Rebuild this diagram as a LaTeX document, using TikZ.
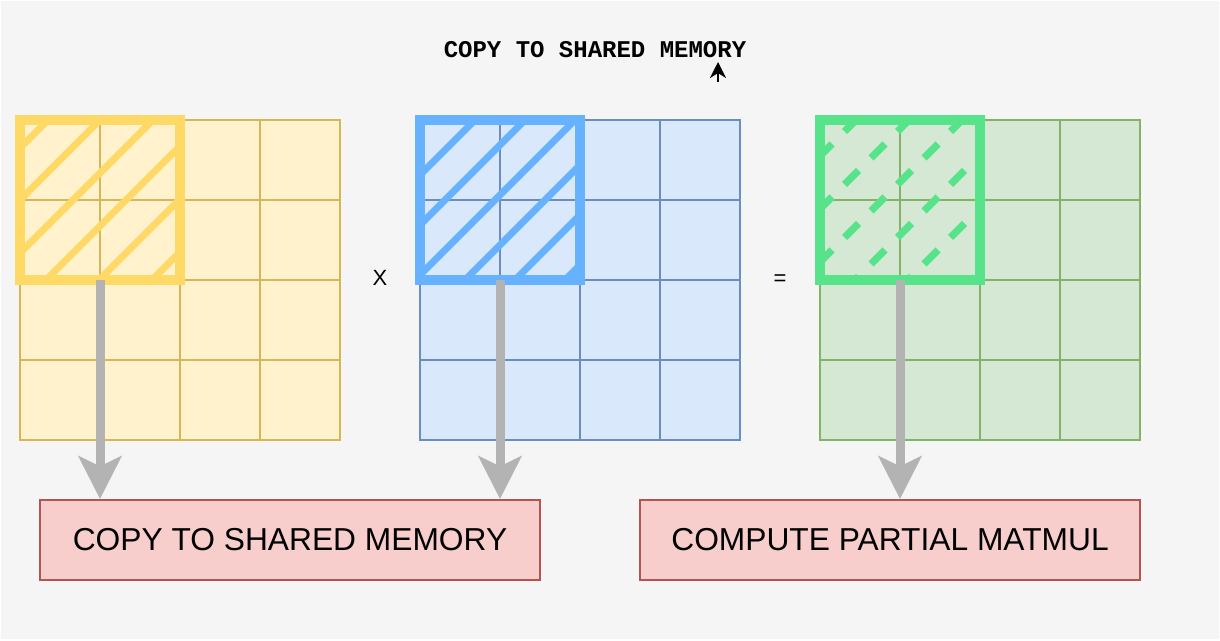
\documentclass[tikz,border=0pt]{standalone}
\usepackage{fontspec}
\setmainfont{Liberation Sans}
\newfontfamily\monofont{Liberation Mono}
\usetikzlibrary{positioning,arrows.meta,calc}
\definecolor{bgcol}{HTML}{F5F5F5}
\definecolor{afill}{HTML}{FFF2CC}
\definecolor{aline}{HTML}{D6B656}
\definecolor{atile}{HTML}{FFD966}
\definecolor{bfill}{HTML}{DAE8FC}
\definecolor{bline}{HTML}{6C8EBF}
\definecolor{btile}{HTML}{66B2FF}
\definecolor{cfill}{HTML}{D5E8D4}
\definecolor{cline}{HTML}{82B366}
\definecolor{ctile}{HTML}{57E389}
\definecolor{boxfill}{HTML}{F8CECC}
\definecolor{boxline}{HTML}{B85450}
\definecolor{arrowgray}{HTML}{B3B3B3}

\begin{document}
\begin{tikzpicture}[x=0.75pt,y=-0.75pt]
		\tikzstyle{mat} = [anchor=north west, minimum size=240pt, inner sep=0, outer sep=0, line width=1.5pt]
		\tikzstyle{tile} = [anchor=north west, minimum size=120pt, inner sep=0, outer sep=0, line width=7.5pt]
		\tikzstyle{hatch} = [line width=5.25pt]
		\tikzstyle{dash_mark} = [line width=5.4pt]
		\tikzstyle{feed} = [-{Stealth[length=32pt,width=32pt,inset=7.5pt]}, line width=6.75pt, draw=arrowgray]
		\tikzstyle{task} = [draw=boxline, fill=boxfill, line width=1.5pt, minimum width=375pt, minimum height=60pt, font=\fontsize{23.8}{28}\selectfont]
		\tikzstyle{op} = [font=\fontsize{16.5}{19}\selectfont]
		\useasboundingbox (0,0) rectangle (1220,640);
		\fill [bgcol] (1,1) rectangle (1219,639);
		% matrices
		\node [mat, fill=afill, draw=aline] (matA) at (20,120) {};
		\node [mat, fill=bfill, draw=bline] (matB) at (420,120) {};
		\node [mat, fill=cfill, draw=cline] (matC) at (820,120) {};
		\foreach \m/\col in {matA/aline, matB/bline, matC/cline}
			\foreach \i in {1,2,3} {
				\draw [\col, line width=1.5pt] ($(\m.north west)+(80*\i,0)$) -- ($(\m.south west)+(80*\i,0)$);
				\draw [\col, line width=1.5pt] ($(\m.north west)+(0,80*\i)$) -- ($(\m.north east)+(0,80*\i)$);
			}
		\node [op] (times) at (380,278) {X};
		\node [op] (equals) at (780,280) {=};
		% tiles
		\node [tile, draw=atile] (tileA) at (20,120) {};
		\node [tile, draw=btile] (tileB) at (420,120) {};
		\node [tile, draw=ctile] (tileC) at (820,120) {};
		\begin{scope}
		\clip ($(tileA.north west)+(5,5)$) rectangle ($(tileA.south east)-(5,5)$);
		\foreach \c in {28,80,133,186,239,292}
			\draw [hatch, atile] ($(tileA.south west)+(\c-160,0)$) -- ++(180,-180);
		\end{scope}
		\begin{scope}
		\clip ($(tileB.north west)+(5,5)$) rectangle ($(tileB.south east)-(5,5)$);
		\foreach \c in {5,55,105,155,205,255,305}
			\draw [hatch, btile] ($(tileB.south west)+(\c-160,0)$) -- ++(180,-180);
		\end{scope}
		\begin{scope}
		\clip ($(tileC.north west)+(5,5)$) rectangle ($(tileC.south east)-(5,5)$);
		\foreach \c in {36,89,142,195,248}
			\foreach \k in {0,...,5}
				\draw [dash_mark, ctile] ($(tileC.north west)+({5+26.5*\k-7},{\c-5-26.5*\k+7})$) -- ++(14,-14);
		\end{scope}
		% tasks
		\node [task] (copy) at (290,540) {COPY TO SHARED MEMORY};
		\node [task] (compute) at (890,540) {COMPUTE PARTIAL MATMUL};
		\draw [feed] (tileA.south) -- (tileA.south |- copy.north);
		\draw [feed] (tileB.south) -- (tileB.south |- copy.north);
		\draw [feed] (tileC.south) -- (tileC.south |- compute.north);
		% title
		\node [font=\monofont\bfseries\fontsize{18}{20}\selectfont] (title) at (595,50) {COPY TO SHARED MEMORY};
		\coordinate (stub) at (718,82);
		\draw [-{Stealth[length=12pt,width=12pt,inset=3.75pt]}, line width=1.8pt] (stub) -- ++(0,-20);
\end{tikzpicture}
\end{document}
